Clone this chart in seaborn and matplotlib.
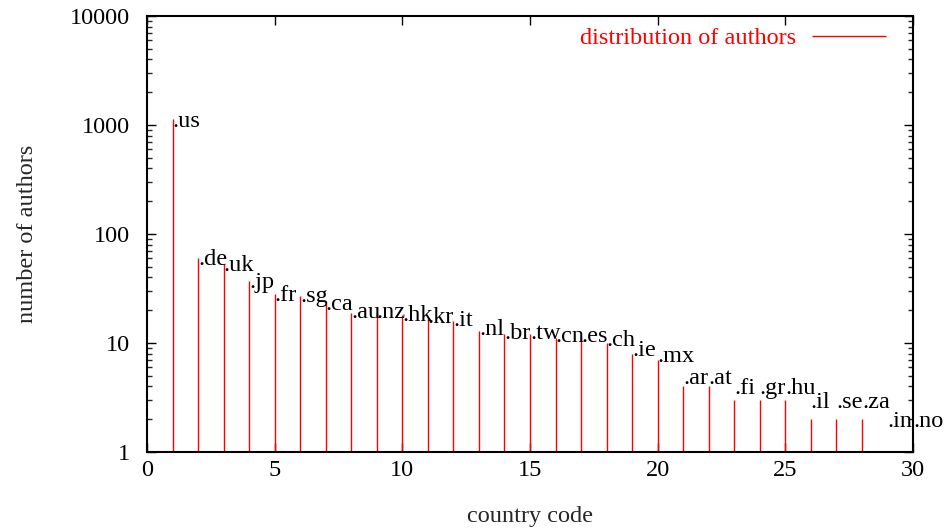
import matplotlib
matplotlib.use("Agg")
import matplotlib.pyplot as plt
import seaborn as sns
import numpy as np
from matplotlib.ticker import LogLocator, FixedLocator, NullFormatter, FixedFormatter

# ---- data ----
country_index = list(range(1, 31))
country_codes = ["us", "de", "uk", "jp", "fr", "sg", "ca", "au", "nz", "hk",
                 "kr", "it", "nl", "br", "tw", "cn", "es", "ch", "ie", "mx",
                 "ar", "at", "fi", "gr", "hu", "il", "se", "za", "in", "no"]
num_authors = [1130, 60, 53, 37, 28, 27, 23, 19, 19, 18,
               17, 16, 13, 12, 12, 11, 11, 10, 8, 7,
               4, 4, 3, 3, 3, 2, 2, 2, 1, 1]
x_ticks = [0, 5, 10, 15, 20, 25, 30]
y_ticks = [1, 10, 100, 1000, 10000]
y_tick_labels = ["1", "10", "100", "1000", "10000"]

FS = 17.5

sns.set_theme(style="ticks")
plt.rcParams["font.family"] = ["Liberation Serif", "DejaVu Serif"]

fig = plt.figure(figsize=(9.46, 5.29), dpi=100)
ax = fig.add_axes([147 / 946, 1 - 452 / 529, (913 - 147) / 946, (452 - 16) / 529])

ax.set_yscale("log")
ax.set_xlim(0, 30)
ax.set_ylim(1, 10000)

ax.vlines(country_index, 1, num_authors, colors="red", linewidth=1.0,
          label="distribution of authors")

for xi, yi, code in zip(country_index, num_authors, country_codes):
    ax.text(xi, yi + 1, "." + code, ha="left", va="center_baseline", fontsize=FS,
            color="black")

ax.xaxis.set_major_locator(FixedLocator(x_ticks))
ax.yaxis.set_major_locator(FixedLocator(y_ticks))
ax.yaxis.set_major_formatter(FixedFormatter(y_tick_labels))
ax.yaxis.set_minor_locator(LogLocator(base=10, subs=np.arange(2, 10)))
ax.yaxis.set_minor_formatter(NullFormatter())

ax.tick_params(axis="both", which="major", direction="in", length=6.5, width=1.0,
               top=True, right=True, labelsize=FS, colors="black")
ax.tick_params(axis="y", which="major", pad=12)
ax.tick_params(axis="x", which="major", pad=6)
ax.tick_params(axis="y", which="minor", direction="in", length=3.5, width=1.0,
               left=True, right=True)
ax.tick_params(axis="x", which="minor", bottom=False, top=False)

for s in ax.spines.values():
    s.set_linewidth(1.5)
    s.set_color("black")

ax.set_xlabel("country code", fontsize=FS, labelpad=18)
ax.set_ylabel("number of authors", fontsize=FS, labelpad=23)

leg = ax.legend(loc="upper right", bbox_to_anchor=((886 - 147) / 766, (452 - 27) / 436),
                frameon=False, fontsize=FS, labelcolor="red",
                markerfirst=False, handlelength=3.05, handletextpad=0.66,
                borderaxespad=0, borderpad=0)

fig.savefig("out.png", dpi=100)
